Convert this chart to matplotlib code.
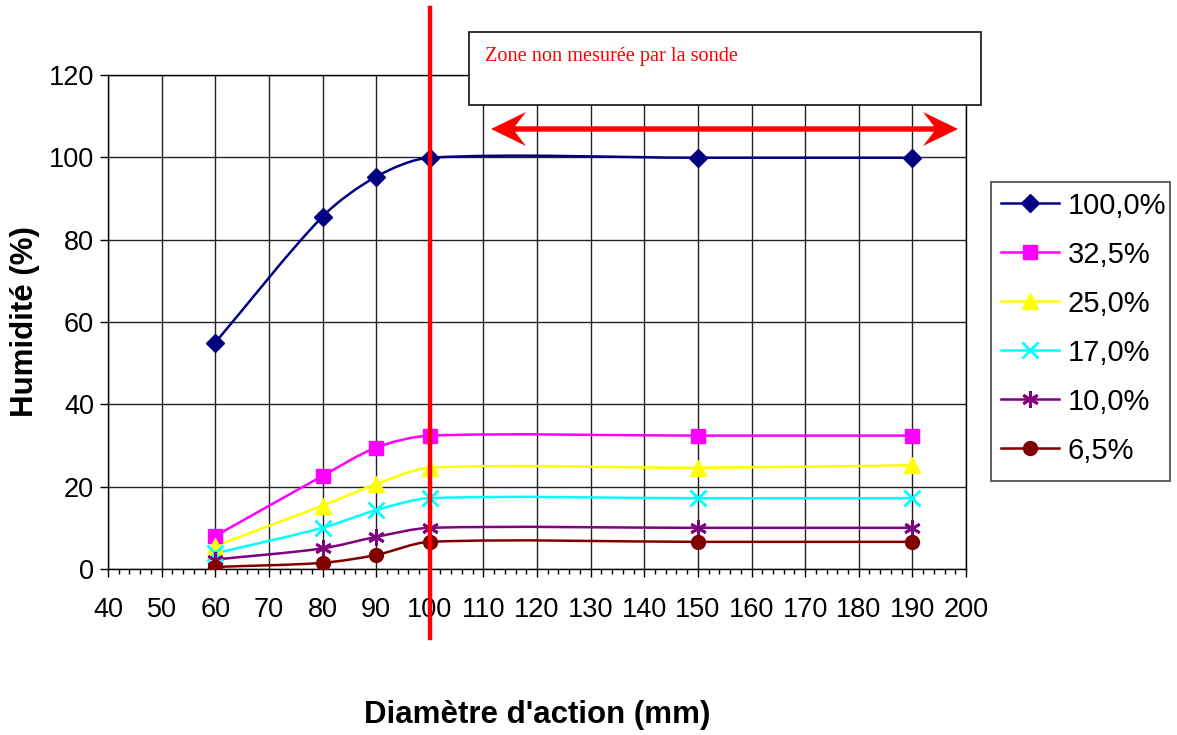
import numpy as np
import matplotlib
matplotlib.use('Agg')
import matplotlib.pyplot as plt
from matplotlib.path import Path
from matplotlib.patches import PathPatch, Rectangle, Polygon
from matplotlib.lines import Line2D
import matplotlib.transforms as mtransforms

plt.rcParams['font.family'] = ['Liberation Sans', 'DejaVu Sans']

# ---------------- data ----------------
diametre = [60, 80, 90, 100, 150, 190]
h_1000 = [55.0, 85.6, 95.3, 99.9, 99.9, 99.9]
h_325 = [8.0, 22.6, 29.5, 32.4, 32.4, 32.4]
h_250 = [5.6, 15.4, 20.6, 24.6, 24.6, 25.2]
h_170 = [3.8, 10.0, 14.3, 17.2, 17.2, 17.2]
h_100 = [2.3, 5.0, 7.8, 10.0, 10.0, 10.0]
h_065 = [0.5, 1.5, 3.4, 6.6, 6.6, 6.6]
series_labels = ['100,0%', '32,5%', '25,0%', '17,0%', '10,0%', '6,5%']
x_ticks = list(range(40, 201, 10))
y_ticks = list(range(0, 121, 20))

series = [h_1000, h_325, h_250, h_170, h_100, h_065]
colors = ['#000080', '#FF00FF', '#FFFF00', '#00FFFF', '#800080', '#800000']
markers = ['D', 's', '^', 'x', (6, 2, 0), 'o']
msizes = [9.5, 9.5, 11, 11, 12, 10]
mews = [1, 1, 1, 2.0, 2.0, 1]

W, H = 1177, 735
fig = plt.figure(figsize=(W / 100, H / 100), dpi=100)
ax = fig.add_axes([108 / W, 1 - 569 / H, 858 / W, 494 / H])
ax.set_xlim(40, 200)
ax.set_ylim(0, 120)


def smooth_path(xs, ys, k=0.3):
    """Excel-like smoothed line, built in screen space: cubic Bezier whose
    tangent directions follow neighbouring points and whose control distances
    scale with each segment's own length."""
    P = ax.transData.transform(np.column_stack([xs, ys]).astype(float))
    n = len(P)
    dirs = []
    for i in range(n):
        a = P[i - 1] if i > 0 else P[i]
        b = P[i + 1] if i < n - 1 else P[i]
        d = b - a
        dirs.append(d / np.hypot(*d))
    verts = [P[0]]
    codes = [Path.MOVETO]
    for i in range(n - 1):
        L = np.hypot(*(P[i + 1] - P[i]))
        c1 = P[i] + dirs[i] * L * k
        c2 = P[i + 1] - dirs[i + 1] * L * k
        verts += [c1, c2, P[i + 1]]
        codes += [Path.CURVE4] * 3
    verts = ax.transData.inverted().transform(np.array(verts))
    return Path(verts, codes)


handles = []
for ys, c, m, ms, mew, lab in zip(series, colors, markers, msizes, mews, series_labels):
    patch = PathPatch(smooth_path(diametre, ys), facecolor='none', edgecolor=c,
                      lw=1.8, zorder=3)
    ax.add_patch(patch)
    ax.plot(diametre, ys, linestyle='none', marker=m, markersize=ms, color=c,
            markeredgecolor=c, markeredgewidth=mew, zorder=4)
    handles.append(Line2D([], [], color=c, lw=1.8, marker=m, markersize=ms,
                          markeredgecolor=c, markeredgewidth=mew, label=lab))

ax.set_xticks(x_ticks)
ax.set_yticks(y_ticks)
ax.set_xticks(np.arange(40, 201, 2), minor=True)
ax.grid(True, which='major', color='#222222', lw=1.0)
ax.set_axisbelow(True)
for s in ax.spines.values():
    s.set_color('black')
    s.set_linewidth(1.0)
ax.tick_params(axis='both', which='major', direction='out', length=6, width=1,
               labelsize=19.5, colors='black')
ax.tick_params(axis='x', which='major', pad=14)
ax.tick_params(axis='y', which='major', pad=4)
ax.tick_params(axis='x', which='minor', direction='out', length=3.5, width=1)

ax.set_xlabel("Diamètre d'action (mm)", fontsize=22.5, fontweight='bold')
ax.xaxis.set_label_coords(0.5, -(715 - 569) / 494)
ax.xaxis.label.set_va('center')
ax.set_ylabel('Humidité (%)', fontsize=22.5, fontweight='bold')
ax.yaxis.set_label_coords(-(108 - 25) / 858, 0.5)
ax.yaxis.label.set_va('center')

# red vertical boundary line (x in data, y in figure)
btrans = mtransforms.blended_transform_factory(ax.transData, fig.transFigure)
fig.add_artist(Line2D([100, 100], [1 - 8 / H, 1 - 638 / H], transform=btrans,
                      color='#FF0000', lw=3.2, zorder=10))

# text box
fig.add_artist(Rectangle((469 / W, 1 - 105 / H), (981 - 469) / W, (105 - 32) / H,
                         transform=fig.transFigure, facecolor='white',
                         edgecolor='#222222', lw=1.3, zorder=11))
fig.text(485 / W, 1 - 56 / H, 'Zone non mesurée par la sonde', color='#FF0000',
         fontsize=14.6, family=['Liberation Serif', 'DejaVu Serif'], va='center',
         ha='left', zorder=12)

# double arrow (figure pixels, y down)
arrow_px = [(491, 129), (526, 112), (515, 126.3), (934, 126.3), (923, 112),
            (958, 129), (923, 146), (934, 131.7), (515, 131.7), (526, 146)]
fig.add_artist(Polygon([(x / W, 1 - y / H) for x, y in arrow_px], closed=True,
                       transform=fig.transFigure, facecolor='#FF0000',
                       edgecolor='none', zorder=12))

# legend frame and legend
fig.add_artist(Rectangle((991 / W, 1 - 481 / H), (1170 - 991) / W, (481 - 182) / H,
                         transform=fig.transFigure, facecolor='white',
                         edgecolor='#555555', lw=1.3, zorder=5))
leg = fig.legend(handles=handles, loc='upper left',
                 bbox_to_anchor=(991 / W, 1 - 182 / H), borderaxespad=0,
                 fontsize=21, frameon=False,
                 handlelength=2.0, handletextpad=0.3, labelspacing=0.72,
                 borderpad=0.33)
leg.set_zorder(6)

fig.savefig('out.png', dpi=100)
